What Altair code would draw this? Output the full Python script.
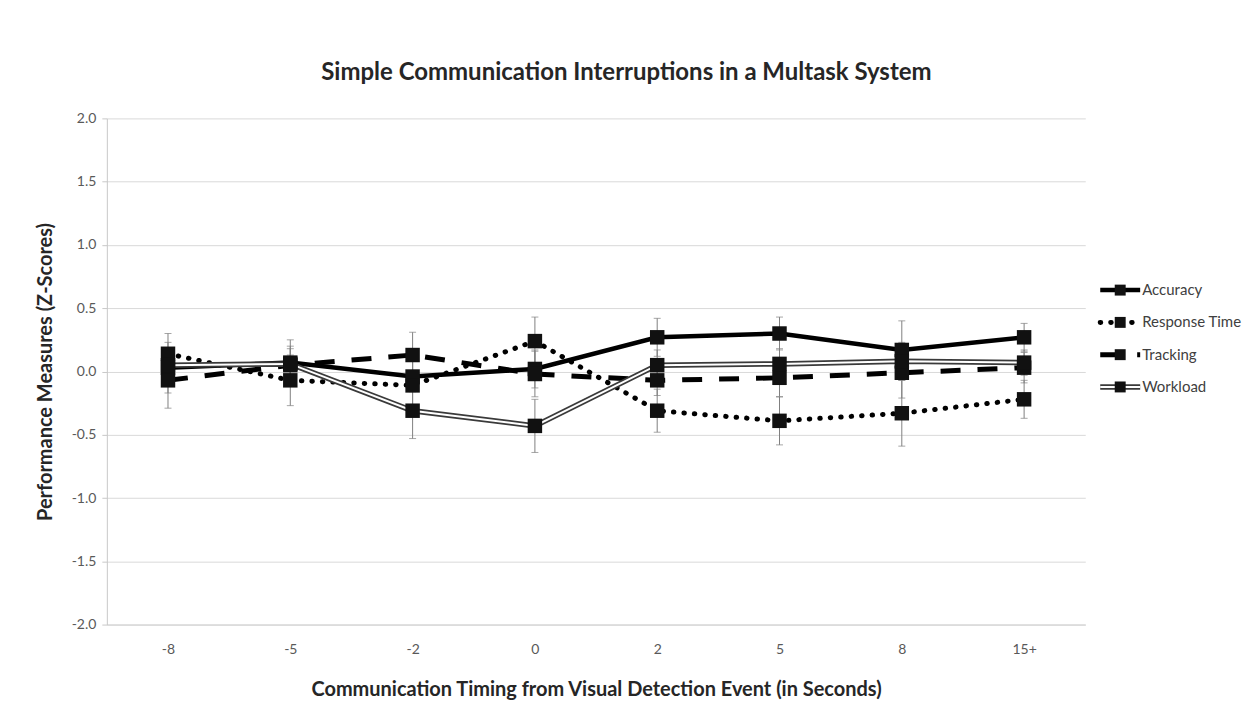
import altair as alt
import pandas as pd

timing = ["-8", "-5", "-2", "0", "2", "5", "8", "15+"]
series_names = ["Accuracy", "Response Time", "Tracking", "Workload"]

accuracy = [0.03, 0.07, -0.04, 0.02, 0.27, 0.30, 0.17, 0.27]
response_time = [0.14, -0.07, -0.11, 0.24, -0.31, -0.39, -0.33, -0.22]
tracking = [-0.07, 0.05, 0.13, -0.02, -0.07, -0.05, -0.01, 0.03]
workload = [0.05, 0.06, -0.31, -0.43, 0.05, 0.06, 0.08, 0.07]

accuracy_err = [0.20, 0.18, 0.12, 0.15, 0.15, 0.13, 0.23, 0.11]
response_time_err = [0.16, 0.20, 0.20, 0.19, 0.17, 0.19, 0.26, 0.15]
tracking_err = [0.22, 0.15, 0.18, 0.18, 0.12, 0.15, 0.20, 0.12]
workload_err = [0.12, 0.12, 0.22, 0.21, 0.12, 0.12, 0.15, 0.10]

y_ticks = [-2.0, -1.5, -1.0, -0.5, 0.0, 0.5, 1.0, 1.5, 2.0]

values = {"Accuracy": accuracy, "Response Time": response_time,
          "Tracking": tracking, "Workload": workload}
errors = {"Accuracy": accuracy_err, "Response Time": response_time_err,
          "Tracking": tracking_err, "Workload": workload_err}

rows = []
for s in series_names:
    for t, v, e in zip(timing, values[s], errors[s]):
        rows.append({"timing": t, "series": s, "value": v,
                     "lo": round(v - e, 3), "hi": round(v + e, 3)})
df = pd.DataFrame(rows)
legend_df = pd.DataFrame({"series": series_names})

FONT = "Lato"
W, H = 980, 507

xenc = alt.X("timing:N", sort=timing, scale=alt.Scale(type="point", padding=0.5),
             axis=alt.Axis(title="Communication Timing from Visual Detection Event (in Seconds)",
                           labelAngle=0, ticks=False, grid=False, domainColor="#d0d0d0",
                           labelPadding=18, titlePadding=23))
yscale = alt.Scale(domain=[-2, 2], nice=False)
yaxis = alt.Axis(title="Performance Measures (Z-Scores)", values=y_ticks, format=".1f",
                 labelExpr="replace(datum.label, '−', '-')",
                 grid=True, gridColor="#d9d9d9", domainColor="#c8c8c8", tickColor="#c8c8c8",
                 tickSize=5, labelPadding=6, titlePadding=16)

base = alt.Chart(df)

err_rule = base.mark_rule(color="#808080", strokeWidth=1).encode(
    x=xenc, y=alt.Y("lo:Q", scale=yscale, axis=yaxis), y2="hi:Q")
cap_lo = base.mark_tick(color="#808080", thickness=1, size=7).encode(
    x=xenc, y=alt.Y("lo:Q", scale=yscale))
cap_hi = base.mark_tick(color="#808080", thickness=1, size=7).encode(
    x=xenc, y=alt.Y("hi:Q", scale=yscale))


def line_layers(chart_base, enc, is_legend=False):
    out = []
    styles = {
        "Accuracy": [dict(color="#000000", strokeWidth=4.5)],
        "Response Time": [dict(color="#000000", strokeWidth=5, strokeDash=[0.5, 10], strokeCap="round")],
        "Tracking": [dict(color="#000000", strokeWidth=5, strokeDash=[20, 17])],
        "Workload": [dict(color="#3a3a3a", strokeWidth=5.5), dict(color="#ffffff", strokeWidth=2)],
    }
    for s in series_names:
        for st in styles[s]:
            if is_legend:
                m = chart_base.transform_filter(alt.datum.series == s).mark_rule(**st)
            else:
                m = chart_base.transform_filter(alt.datum.series == s).mark_line(**st)
            out.append(m.encode(**enc))
    return out


lines = line_layers(base, dict(x=xenc, y=alt.Y("value:Q", scale=yscale)))
points = base.mark_square(size=210, color="#111111", opacity=1).encode(
    x=xenc, y=alt.Y("value:Q", scale=yscale))

main = alt.layer(err_rule, cap_lo, cap_hi, *lines, points).properties(width=W, height=H)

# legend panel
lbase = alt.Chart(legend_df)
ly = alt.Y("series:N", sort=series_names,
           scale=alt.Scale(type="point", domain=series_names, range=[172, 269], padding=0),
           axis=None)
leg_lines = line_layers(lbase, dict(x=alt.value(0), x2=alt.value(40), y=ly), is_legend=True)
leg_pts = lbase.mark_square(size=120, color="#111111", opacity=1).encode(x=alt.value(20), y=ly)
leg_text = lbase.mark_text(align="left", baseline="middle", font=FONT, fontSize=15,
                           color="#404040").encode(x=alt.value(42), y=ly, text="series:N")
legend = alt.layer(*leg_lines, leg_pts, leg_text).properties(width=140, height=H)

chart = alt.hconcat(main, legend, spacing=12).properties(
    title=alt.TitleParams("Simple Communication Interruptions in a Multask System",
                          font=FONT, fontSize=24, fontWeight="bold", color="#262626",
                          anchor="middle", offset=26, dx=-12),
    padding={"left": 27, "top": 53, "right": 5, "bottom": 5},
    background="white",
).configure_view(stroke=None).configure_axis(
    labelFont=FONT, labelFontSize=14, labelColor="#595959",
    titleFont=FONT, titleFontSize=20, titleFontWeight="bold", titleColor="#262626",
)

chart.save("out.html", embed_options={"renderer": "svg", "actions": False})
